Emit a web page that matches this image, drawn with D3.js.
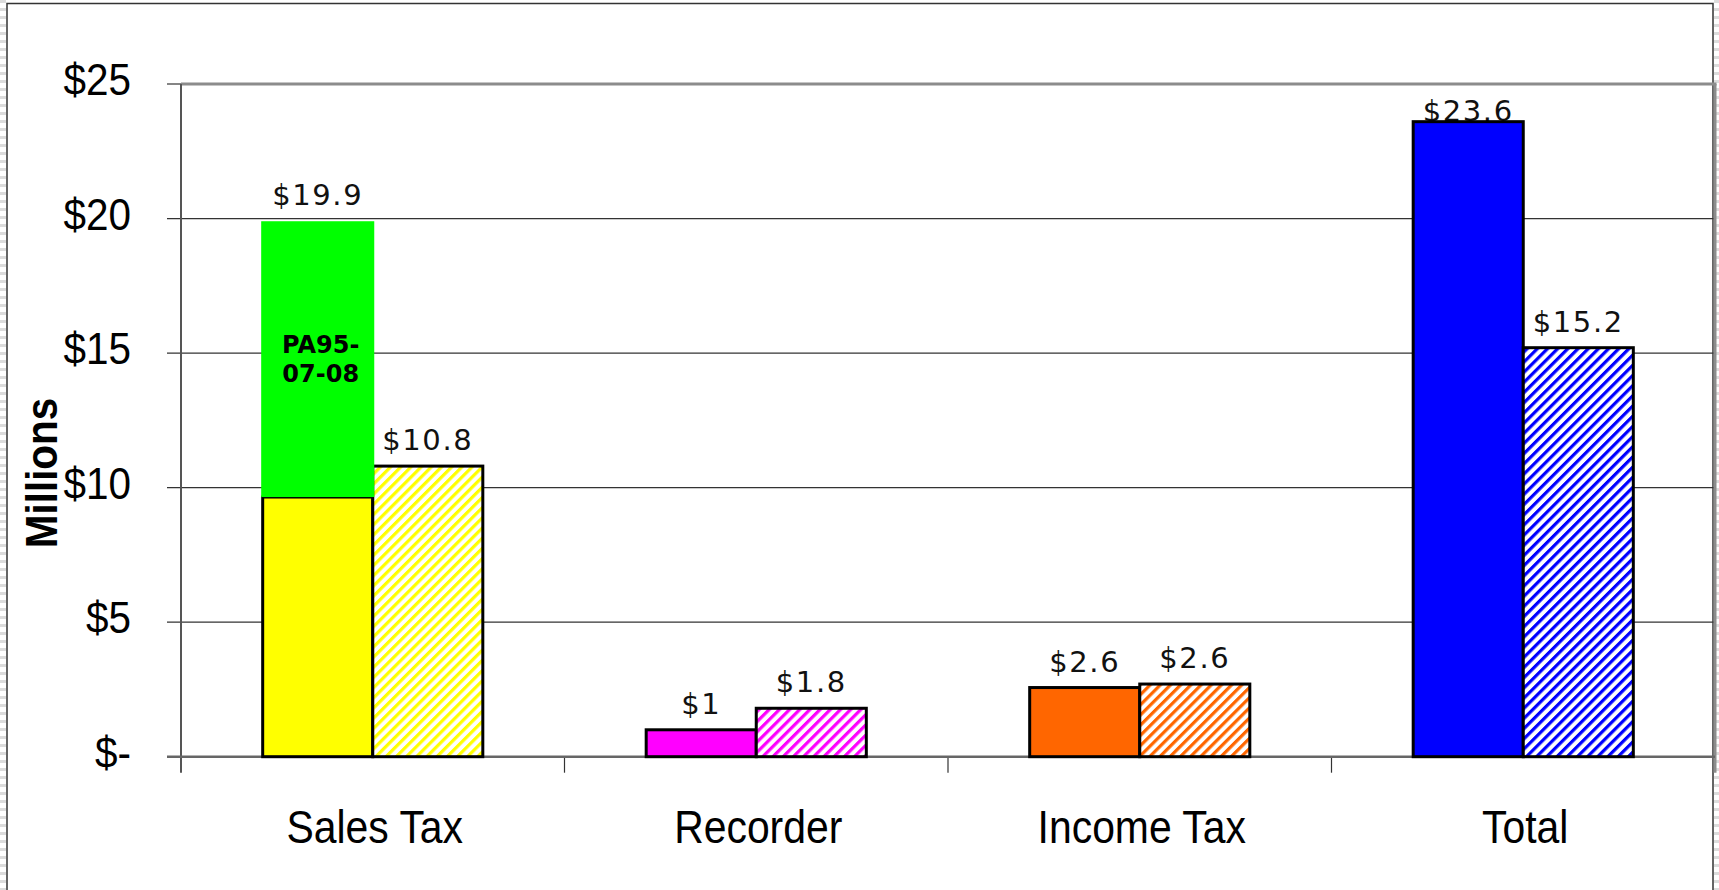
<!DOCTYPE html>
<html>
<head>
<meta charset="utf-8">
<script src="https://cdn.jsdelivr.net/npm/d3@7"></script>
<style>
  body { margin: 0; background: #fff; }
  svg { display: block; }
</style>
</head>
<body>
<div id="chart"></div>
<script>
// data
var categories = ["Sales Tax", "Recorder", "Income Tax", "Total"];
var solidValues = [9.65, 1.0, 2.57, 23.6];
var extraValues = [10.25, 0, 0, 0];          // green PA95-07-08 piece on Sales Tax
var hatchValues = [10.8, 1.8, 2.7, 15.2];
var solidLabels = ["$19.9", "$1", "$2.6", "$23.6"];
var hatchLabels = ["$10.8", "$1.8", "$2.6", "$15.2"];
var barColors = ["#ffff00", "#ff00ff", "#ff6600", "#0000ff"];
var yTicks = [0, 5, 10, 15, 20, 25];
var yTickLabels = ["$-", "$5", "$10", "$15", "$20", "$25"];

var W = 1719, H = 890;
var plotLeft = 181, plotRight = 1715, plotTop = 84, plotBottom = 756.7;

var svg = d3.select("#chart").append("svg")
    .attr("width", W)
    .attr("height", H);

var defs = svg.append("defs");

// hatch patterns, one per colour
barColors.forEach(function (c, i) {
    var p = defs.append("pattern")
        .attr("id", "hatch" + i)
        .attr("patternUnits", "userSpaceOnUse")
        .attr("width", 7.2)
        .attr("height", 7.2)
        .attr("patternTransform", "rotate(45)");
    p.append("rect").attr("width", 7.2).attr("height", 7.2).attr("fill", "#fff");
    p.append("rect").attr("width", 3.2).attr("height", 7.2).attr("fill", c);
});

// striped strips outside the frame
var strip = defs.append("pattern")
    .attr("id", "strip")
    .attr("patternUnits", "userSpaceOnUse")
    .attr("width", 8)
    .attr("height", 8);
strip.append("rect").attr("width", 8).attr("height", 3).attr("fill", "#dcdcdc");

svg.append("rect").attr("x", 0).attr("y", 0).attr("width", 6).attr("height", H).attr("fill", "url(#strip)");
svg.append("rect").attr("x", 1714).attr("y", 0).attr("width", 5).attr("height", H).attr("fill", "url(#strip)");

// outer frame
svg.append("path")
    .attr("d", "M7," + (H + 5) + "V3.5H1713V" + (H + 5))
    .attr("fill", "none")
    .attr("stroke", "#333")
    .attr("stroke-width", 1.5);

var x = d3.scaleBand()
    .domain(categories)
    .range([plotLeft, plotRight])
    .paddingInner(0.426)
    .paddingOuter(0.213);

var xSub = d3.scaleBand()
    .domain([0, 1])
    .range([0, x.bandwidth()]);

var y = d3.scaleLinear()
    .domain([0, 25])
    .range([plotBottom, plotTop]);

// gridlines + y ticks
svg.append("g").selectAll("line")
    .data(yTicks.filter(function (d) { return d > 0 && d < 25; }))
    .enter().append("line")
    .attr("x1", plotLeft - 14)
    .attr("x2", plotRight)
    .attr("y1", function (d) { return y(d); })
    .attr("y2", function (d) { return y(d); })
    .attr("stroke", "#333")
    .attr("stroke-width", 1.2);

svg.append("g").selectAll("line")
    .data([0, 25])
    .enter().append("line")
    .attr("x1", plotLeft - 14)
    .attr("x2", plotLeft)
    .attr("y1", function (d) { return y(d); })
    .attr("y2", function (d) { return y(d); })
    .attr("stroke", "#333")
    .attr("stroke-width", 1.2);

// plot borders
svg.append("line")
    .attr("x1", plotLeft).attr("x2", plotRight + 1.5)
    .attr("y1", plotTop).attr("y2", plotTop)
    .attr("stroke", "#8c8c8c").attr("stroke-width", 3);
svg.append("line")
    .attr("x1", plotRight).attr("x2", plotRight)
    .attr("y1", plotTop).attr("y2", plotBottom + 16)
    .attr("stroke", "#8c8c8c").attr("stroke-width", 3);
svg.append("line")
    .attr("x1", plotLeft).attr("x2", plotLeft)
    .attr("y1", plotTop).attr("y2", plotBottom + 16)
    .attr("stroke", "#555").attr("stroke-width", 2);

// x tick marks at category boundaries
var bounds = categories.map(function (c) { return x(c) - x.step() * x.paddingOuter(); });
svg.append("g").selectAll("line")
    .data(bounds.slice(1))
    .enter().append("line")
    .attr("x1", function (d) { return d; })
    .attr("x2", function (d) { return d; })
    .attr("y1", plotBottom)
    .attr("y2", plotBottom + 16)
    .attr("stroke", "#333")
    .attr("stroke-width", 1.2);

// y tick labels
svg.append("g").selectAll("text")
    .data(yTicks)
    .enter().append("text")
    .attr("transform", function (d) { return "translate(131," + (y(d) + 11) + ") scale(0.92,1)"; })
    .attr("text-anchor", "end")
    .style("font-family", "'Liberation Sans', Arial, sans-serif")
    .style("font-size", "44px")
    .attr("fill", "#000")
    .text(function (d, i) { return yTickLabels[i]; });

// y axis title
svg.append("text")
    .attr("transform", "translate(57,473) rotate(-90) scale(0.92,1)")
    .attr("text-anchor", "middle")
    .style("font-family", "'Liberation Sans', Arial, sans-serif")
    .style("font-size", "44px")
    .style("font-weight", "bold")
    .text("Millions");

// category labels
svg.append("g").selectAll("text")
    .data(categories)
    .enter().append("text")
    .attr("transform", function (d) { return "translate(" + (x(d) + x.bandwidth() / 2 + 2) + ",843) scale(0.87,1)"; })
    .attr("text-anchor", "middle")
    .style("font-family", "'Liberation Sans', Arial, sans-serif")
    .style("font-size", "47px")
    .text(function (d) { return d; });

// value labels (kept inside the plot, like the original)
function labelY(v) { return Math.max(y(v) - 16, plotTop + 37); }

var labelFont = "'DejaVu Sans', Verdana, sans-serif";
svg.append("g").selectAll("text")
    .data(categories)
    .enter().append("text")
    .attr("x", function (d) { return x(d) + xSub(0) + xSub.bandwidth() / 2; })
    .attr("y", function (d, i) { return labelY(solidValues[i] + extraValues[i]); })
    .attr("text-anchor", "middle")
    .style("font-family", labelFont)
    .style("font-size", "29px")
    .style("letter-spacing", "1.6px")
    .attr("fill", "#111")
    .text(function (d, i) { return solidLabels[i]; });

svg.append("g").selectAll("text")
    .data(categories)
    .enter().append("text")
    .attr("x", function (d) { return x(d) + xSub(1) + xSub.bandwidth() / 2; })
    .attr("y", function (d, i) { return labelY(hatchValues[i]); })
    .attr("text-anchor", "middle")
    .style("font-family", labelFont)
    .style("font-size", "29px")
    .style("letter-spacing", "1.6px")
    .attr("fill", "#111")
    .text(function (d, i) { return hatchLabels[i]; });

// baseline
svg.append("line")
    .attr("x1", plotLeft - 14).attr("x2", plotRight)
    .attr("y1", plotBottom).attr("y2", plotBottom)
    .attr("stroke", "#666").attr("stroke-width", 2.5);

// bars
svg.append("g").selectAll("rect")
    .data(categories)
    .enter().append("rect")
    .attr("x", function (d) { return x(d) + xSub(0); })
    .attr("y", function (d, i) { return y(solidValues[i]); })
    .attr("width", xSub.bandwidth())
    .attr("height", function (d, i) { return plotBottom - y(solidValues[i]); })
    .attr("fill", function (d, i) { return barColors[i]; })
    .attr("stroke", "#000")
    .attr("stroke-width", 3);

svg.append("g").selectAll("rect")
    .data(categories)
    .enter().append("rect")
    .attr("x", function (d) { return x(d) + xSub(1); })
    .attr("y", function (d, i) { return y(hatchValues[i]); })
    .attr("width", xSub.bandwidth())
    .attr("height", function (d, i) { return plotBottom - y(hatchValues[i]); })
    .attr("fill", function (d, i) { return "url(#hatch" + i + ")"; })
    .attr("stroke", "#000")
    .attr("stroke-width", 3);

// green stacked piece
var extra = categories.filter(function (d, i) { return extraValues[i] > 0; });
var gExtra = svg.append("g");
gExtra.selectAll("rect")
    .data(extra)
    .enter().append("rect")
    .attr("x", function (d) { return x(d) + xSub(0) - 1.5; })
    .attr("y", function (d) {
        var i = categories.indexOf(d);
        return y(solidValues[i] + extraValues[i]);
    })
    .attr("width", xSub.bandwidth() + 3)
    .attr("height", function (d) {
        var i = categories.indexOf(d);
        return y(solidValues[i]) - y(solidValues[i] + extraValues[i]);
    })
    .attr("fill", "#00ff00");

gExtra.selectAll("text")
    .data(extra)
    .enter().append("text")
    .attr("x", function (d) { return x(d) + xSub(0) + xSub.bandwidth() / 2 + 3; })
    .attr("y", function (d) {
        var i = categories.indexOf(d);
        return y(solidValues[i] + extraValues[i] / 2) - 6;
    })
    .attr("text-anchor", "middle")
    .style("font-family", "'DejaVu Sans', Verdana, sans-serif")
    .style("font-size", "24px")
    .style("font-weight", "bold")
    .selectAll("tspan")
    .data(["PA95-", "07-08"])
    .enter().append("tspan")
    .attr("x", function () { return d3.select(this.parentNode).attr("x"); })
    .attr("dy", function (d, i) { return i === 0 ? 0 : 29; })
    .text(function (d) { return d; });
</script>
</body>
</html>
